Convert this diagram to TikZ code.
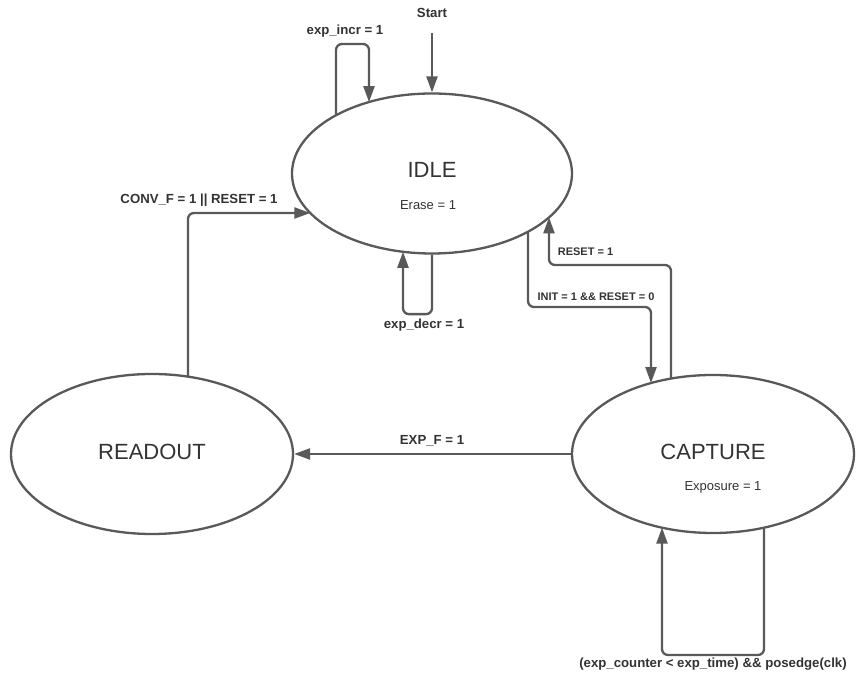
\documentclass[tikz,border=0pt]{standalone}
\usepackage{fontspec}
\setmainfont{Liberation Sans}
\usetikzlibrary{shapes.geometric,arrows.meta,calc}
\definecolor{ln}{HTML}{595959}
\definecolor{tx}{HTML}{333333}
\tikzset{
  state/.style={ellipse, draw=ln, line width=2.3pt, inner sep=0pt, text=tx, font=\fontsize{22}{24}\selectfont},
  conn/.style={draw=ln, line width=2.3pt, rounded corners=6pt, -{Triangle[length=16pt,width=11pt]}},
  lbl/.style={text=tx, font=\fontsize{13.2}{15}\selectfont\bfseries, inner sep=0pt},
  slbl/.style={text=tx, font=\fontsize{11}{13}\selectfont\bfseries, inner sep=0pt},
  title/.style={text=tx, font=\fontsize{22}{24}\selectfont, inner sep=0pt},
  sub/.style={text=tx, font=\fontsize{13}{15}\selectfont, inner sep=0pt}
}
\begin{document}
\begin{tikzpicture}[x=1pt,y=1pt]
\useasboundingbox (0,0) rectangle (863,683);
\fill[white] (0,0) rectangle (863,683);
% states
\node[state, minimum width=280pt, minimum height=160pt] (idle) at (432,509.5) {};
\node[state, minimum width=282pt, minimum height=160pt] (readout) at (152,229) {};
\node[state, minimum width=282pt, minimum height=158pt] (capture) at (713,229) {};
\node[title] (idlet) at (432,513) {IDLE};
\node[sub] (erase) at (428,478) {Erase = 1};
\node[title] (readt) at (152,231) {READOUT};
\node[title] (capt) at (713,231) {CAPTURE};
\node[sub] (expo) at (723,196) {Exposure = 1};
% start
\node[lbl] (start) at (432,670) {Start};
\coordinate (s0) at (432,650);
\draw[conn] (s0) -- (idle.north);
% exp_incr loop
\coordinate (i1) at ($(idle.center)+(-96,58.2)$);
\coordinate (i2) at ($(idle.center)+(-63,71.4)$);
\draw[conn] (i1) -- ++(0,71.3) -| (i2);
\node[lbl] (incr) at (345,652) {exp\_incr = 1};
% exp_decr loop
\coordinate (d2) at ($(idle.center)+(-29,-78.3)$);
\draw[conn] (idle.south) -- ++(0,-59.5) -| (d2);
\node[lbl] (decr) at (424,358) {exp\_decr = 1};
% CONV_F
\coordinate (r1) at ($(readout.center)+(36,77.35)$);
\coordinate (i3) at ($(idle.center)+(-121.7,-39.5)$);
\draw[conn] (r1) |- (i3);
\node[lbl] (conv) at (199,483) {CONV\_F = 1 || RESET = 1};
% INIT
\coordinate (i4) at ($(idle.center)+(96,-58.2)$);
\coordinate (c1) at ($(capture.center)+(-62,70.95)$);
\draw[conn] (i4) -- ++(0,-75.3) -| (c1);
\node[slbl] (init) at (596,386) {INIT = 1 \&\& RESET = 0};
% RESET
\coordinate (c2) at ($(capture.center)+(-42,75.4)$);
\coordinate (i5) at ($(idle.center)+(117,-43.9)$);
\draw[conn] (c2) -- ++(0,113.6) -| (i5);
\node[slbl] (rst) at (585.5,431) {RESET = 1};
% EXP_F
\draw[conn] (capture.west) -- (readout.east);
\node[lbl] (expf) at (432,242) {EXP\_F = 1};
% bottom loop
\coordinate (c3) at ($(capture.center)+(51,-73.65)$);
\coordinate (c4) at ($(capture.center)+(-51,-73.65)$);
\draw[conn] (c3) -- ++(0,-127.35) -| (c4);
\node[lbl] (cnt) at (713,19) {(exp\_counter < exp\_time) \&\& posedge(clk)};
\end{tikzpicture}
\end{document}
